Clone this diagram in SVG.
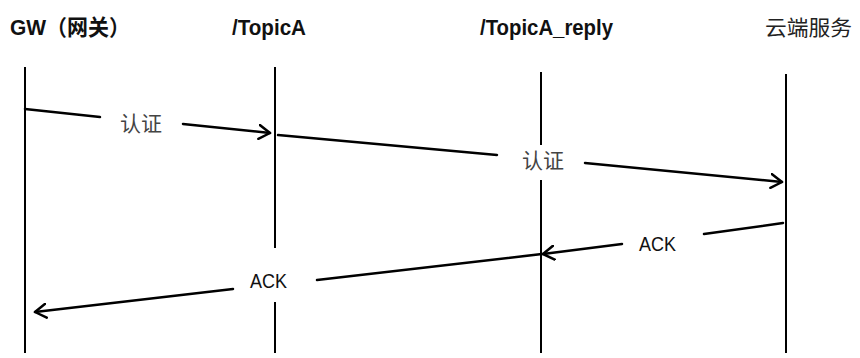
<svg xmlns="http://www.w3.org/2000/svg" width="860" height="358" viewBox="0 0 860 358">
<defs>
<style>
.life{stroke:#000;stroke-width:2;fill:none}
.msg{stroke:#000;stroke-width:2.5;fill:none;stroke-linecap:round}
.head{font-family:"Liberation Sans","Noto Sans CJK SC",sans-serif;font-size:22px;font-weight:bold;fill:#111}
.cjkhead{font-family:"Noto Sans CJK SC",sans-serif;font-size:21px;fill:#222}
.lbl{font-family:"Noto Sans CJK SC",serif;font-size:21px;fill:#444}
.ack{font-family:"Liberation Sans",sans-serif;font-size:21px;fill:#111}
</style>
<marker id="arr" viewBox="0 0 14 16" refX="12" refY="8" markerWidth="14" markerHeight="16" markerUnits="userSpaceOnUse" orient="auto">
<path d="M1,1 L12,8 L1,15" fill="none" stroke="#000" stroke-width="2.5" stroke-linecap="round" stroke-linejoin="round"/>
</marker>
</defs>
<rect width="860" height="358" fill="#fff"/>
<g id="gw">
<text class="head" x="10" y="35" textLength="120" lengthAdjust="spacingAndGlyphs">GW（网关）</text>
<line class="life" x1="25" y1="67" x2="25" y2="353"/>
</g>
<g id="topicA">
<text class="head" x="232" y="35" textLength="74" lengthAdjust="spacingAndGlyphs">/TopicA</text>
<line class="life" x1="275" y1="67" x2="275" y2="248"/>
<line class="life" x1="275" y1="302" x2="275" y2="353"/>
</g>
<g id="topicA_reply">
<text class="head" x="480" y="35" textLength="133" lengthAdjust="spacingAndGlyphs">/TopicA_reply</text>
<line class="life" x1="541" y1="72" x2="541" y2="145"/>
<line class="life" x1="541" y1="180" x2="541" y2="353"/>
</g>
<g id="cloud">
<text class="cjkhead" x="765" y="35" textLength="87" lengthAdjust="spacingAndGlyphs">云端服务</text>
<line class="life" x1="786" y1="74" x2="786" y2="353"/>
</g>
<g id="connectors">
<line class="msg" x1="25" y1="109" x2="100" y2="117"/>
<line class="msg" x1="183" y1="124" x2="270" y2="133" marker-end="url(#arr)"/>
<text class="lbl" x="141" y="131" text-anchor="middle">认证</text>
<line class="msg" x1="278" y1="135" x2="497" y2="155"/>
<line class="msg" x1="585" y1="163" x2="782" y2="182" marker-end="url(#arr)"/>
<text class="lbl" x="543" y="168" text-anchor="middle">认证</text>
<line class="msg" x1="783" y1="223" x2="704" y2="234"/>
<line class="msg" x1="622" y1="244" x2="543" y2="254" marker-end="url(#arr)"/>
<text class="ack" x="639" y="251" textLength="37" lengthAdjust="spacingAndGlyphs">ACK</text>
<line class="msg" x1="542" y1="254" x2="317" y2="280"/>
<line class="msg" x1="233" y1="289" x2="35" y2="312" marker-end="url(#arr)"/>
<text class="ack" x="250" y="288" textLength="37" lengthAdjust="spacingAndGlyphs">ACK</text>
</g>
</svg>
